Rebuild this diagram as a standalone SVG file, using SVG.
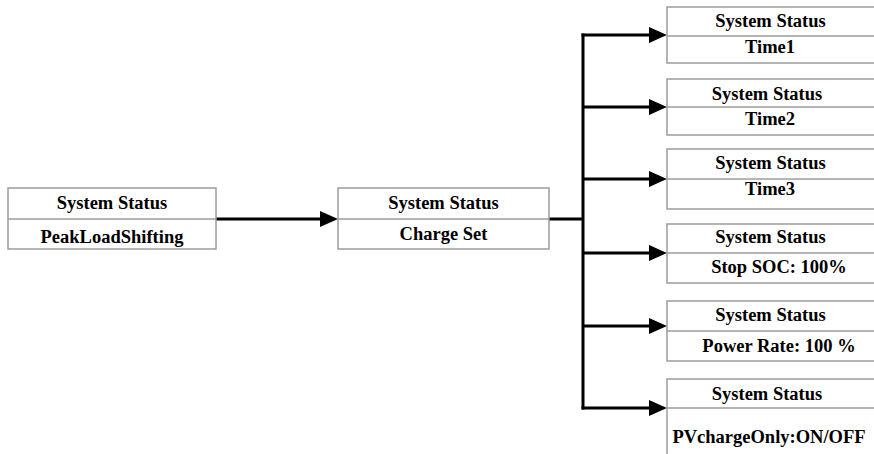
<svg xmlns="http://www.w3.org/2000/svg" width="874" height="454" viewBox="0 0 874 454">
<style>
.box{fill:#fff;stroke:#9c9c9c;stroke-width:1.5}
.div{stroke:#9c9c9c;stroke-width:1.5}
.t{font-family:"Liberation Serif","Times New Roman",serif;font-weight:bold;font-size:18.5px;fill:#000;text-anchor:middle}
.c{fill:none;stroke:#000;stroke-width:3}
</style>
<defs>
<marker id="ah" markerUnits="userSpaceOnUse" markerWidth="18" markerHeight="16" viewBox="0 0 18 16" refX="6" refY="8" orient="auto">
<path d="M0,0 L18,8 L0,16 z" fill="#000"/>
</marker>
</defs>
<g id="connectors">
<line class="c" x1="216" y1="219" x2="326" y2="219" marker-end="url(#ah)"/>
<polyline class="c" points="549,219 583,219"/>
<line class="c" x1="583" y1="33.5" x2="583" y2="409.5"/>
<line class="c" x1="581.5" y1="35" x2="655" y2="35" marker-end="url(#ah)"/>
<line class="c" x1="583" y1="107" x2="655" y2="107" marker-end="url(#ah)"/>
<line class="c" x1="583" y1="179" x2="655" y2="179" marker-end="url(#ah)"/>
<line class="c" x1="583" y1="253" x2="655" y2="253" marker-end="url(#ah)"/>
<line class="c" x1="583" y1="326" x2="655" y2="326" marker-end="url(#ah)"/>
<line class="c" x1="581.5" y1="408" x2="655" y2="408" marker-end="url(#ah)"/>
</g>
<g id="node-peak">
<rect class="box" x="8" y="188" width="208" height="61"/>
<line class="div" x1="8" y1="219" x2="216" y2="219"/>
<text class="t" x="112" y="209">System Status</text>
<text class="t" x="112" y="243">PeakLoadShifting</text>
</g>
<g id="node-charge">
<rect class="box" x="338" y="188" width="211" height="61"/>
<line class="div" x1="338" y1="219" x2="549" y2="219"/>
<text class="t" x="443.5" y="209">System Status</text>
<text class="t" x="443.5" y="240">Charge Set</text>
</g>
<g id="node-time1">
<rect class="box" x="667" y="7" width="220" height="56"/>
<line class="div" x1="667" y1="36" x2="887" y2="36"/>
<text class="t" x="770.5" y="27">System Status</text>
<text class="t" x="770" y="53">Time1</text>
</g>
<g id="node-time2">
<rect class="box" x="667" y="79" width="220" height="56"/>
<line class="div" x1="667" y1="107" x2="887" y2="107"/>
<text class="t" x="767" y="100">System Status</text>
<text class="t" x="770" y="125">Time2</text>
</g>
<g id="node-time3">
<rect class="box" x="667" y="149" width="220" height="60"/>
<line class="div" x1="667" y1="179" x2="887" y2="179"/>
<text class="t" x="770.5" y="169">System Status</text>
<text class="t" x="770" y="195">Time3</text>
</g>
<g id="node-soc">
<rect class="box" x="667" y="224" width="220" height="59"/>
<line class="div" x1="667" y1="253" x2="887" y2="253"/>
<text class="t" x="770.5" y="243">System Status</text>
<text class="t" x="779" y="273">Stop SOC: 100%</text>
</g>
<g id="node-power">
<rect class="box" x="667" y="301" width="220" height="60"/>
<line class="div" x1="667" y1="331" x2="887" y2="331"/>
<text class="t" x="770.5" y="321">System Status</text>
<text class="t" x="779" y="352">Power Rate: 100 %</text>
</g>
<g id="node-pv">
<rect class="box" x="667" y="379" width="220" height="90"/>
<line class="div" x1="667" y1="408" x2="887" y2="408"/>
<text class="t" x="767" y="400">System Status</text>
<text class="t" x="769" y="443">PVchargeOnly:ON/OFF</text>
</g>
</svg>
